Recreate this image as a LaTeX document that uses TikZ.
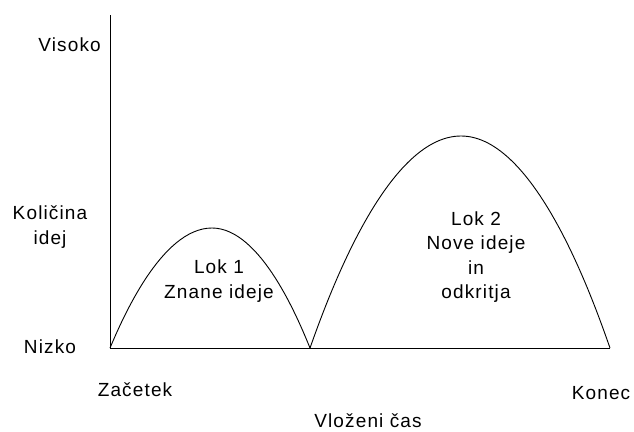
\documentclass[tikz,border=0pt]{standalone}
\usepackage{fontspec}
\setmainfont[LetterSpace=6]{Liberation Sans}
\begin{document}
\begin{tikzpicture}[x=1pt,y=-1pt,
  lbl/.style={inner sep=0pt,align=center,font=\fontsize{19}{24.5}\selectfont},
  curve/.style={line width=0.9pt,black}]
\useasboundingbox (0,0) rectangle (634,431);
\coordinate (top) at (110,15);
\coordinate (origin) at (110,348);
\coordinate (mid) at (310,348);
\coordinate (endx) at (610,348);
\draw[curve] (top) -- (origin) -- (endx);
\draw[curve] (origin) parabola bend (212,228) (mid);
\draw[curve] (mid) parabola bend (461,136) (endx);
\node[lbl,anchor=east] (visoko) at (101,45) {Visoko};
\node[lbl] (kolicina) at (50,227) {Količina\\idej};
\node[lbl] (nizko) at (50,347) {Nizko};
\node[lbl] (zacetek) at (135,390) {Začetek};
\node[lbl] (konec) at (601,393) {Konec};
\node[lbl] (cas) at (368,421) {Vloženi čas};
\node[lbl] (lok1) at (219,281) {Lok 1\\Znane ideje};
\node[lbl] (lok2) at (476,257) {Lok 2\\Nove ideje\\in\\odkritja};
\end{tikzpicture}
\end{document}
